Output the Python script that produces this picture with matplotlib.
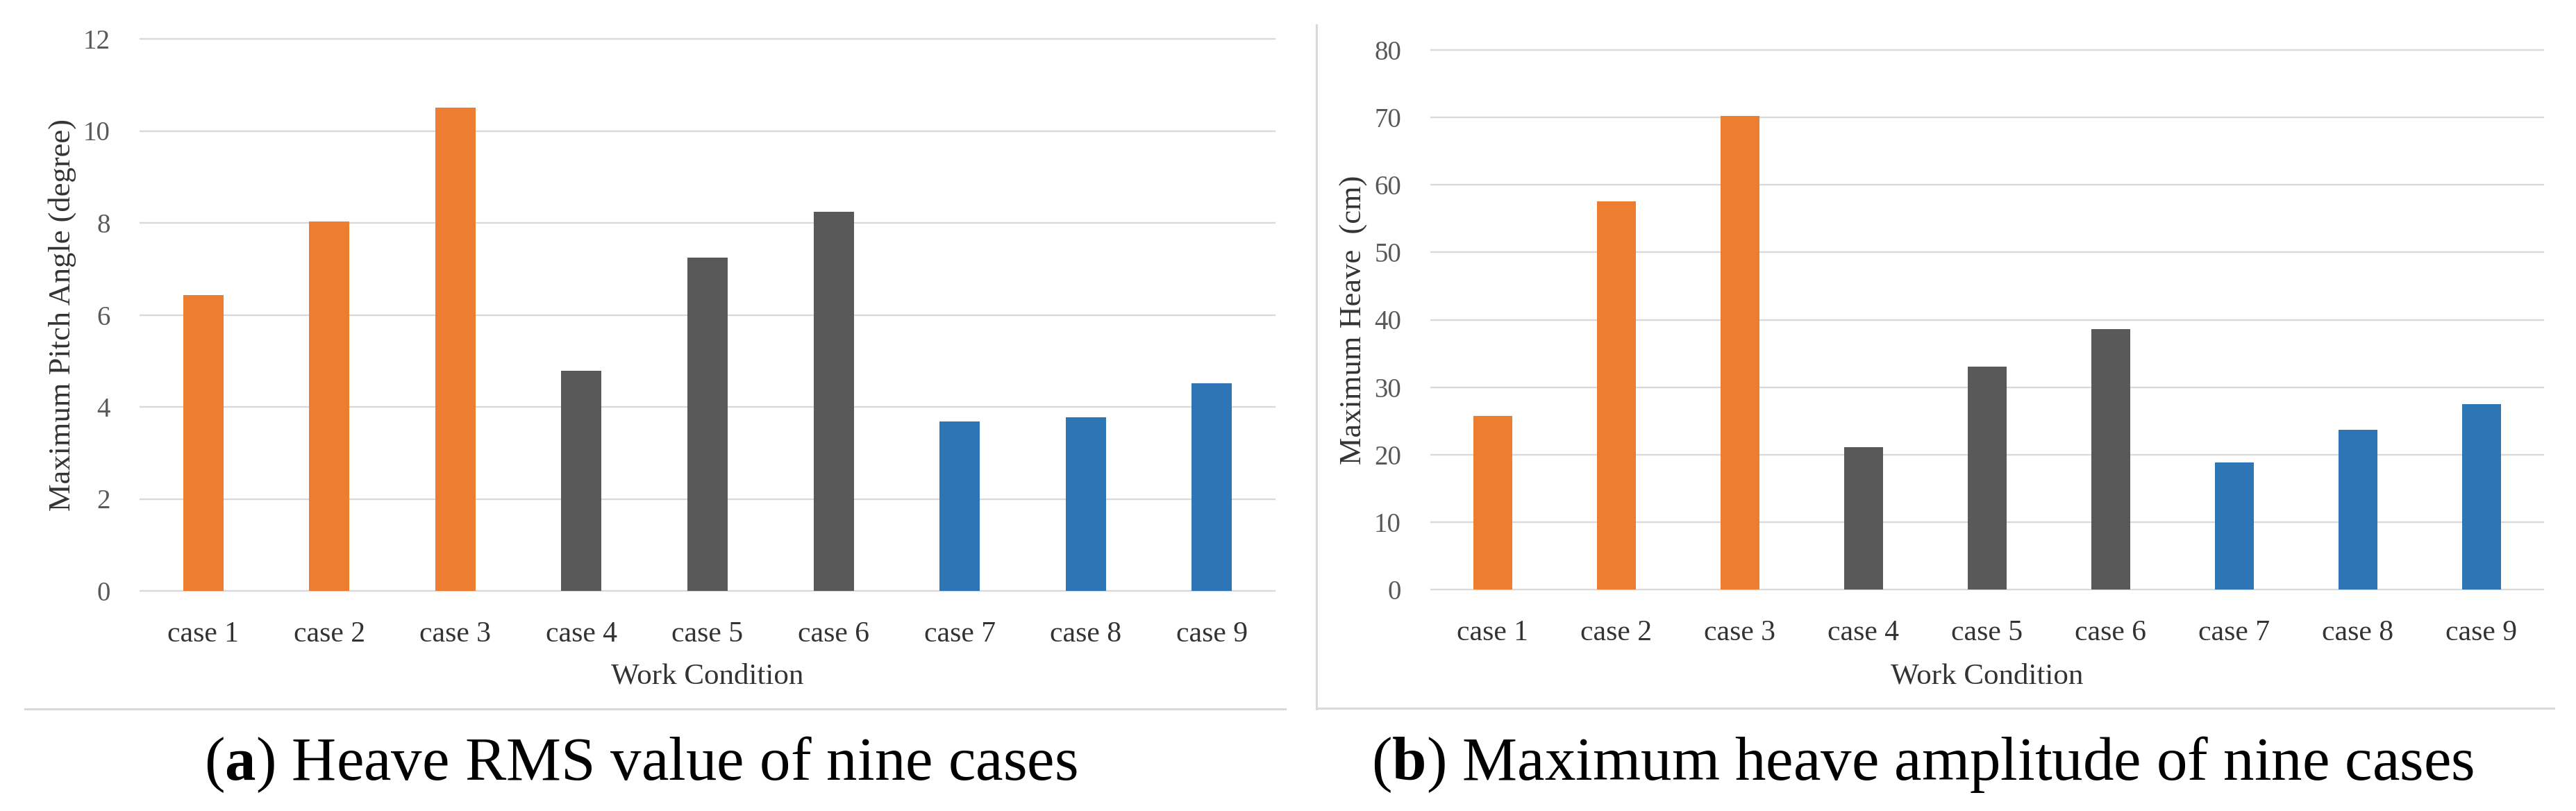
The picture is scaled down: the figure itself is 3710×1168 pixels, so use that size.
import matplotlib
matplotlib.use("Agg")
import matplotlib.pyplot as plt
from matplotlib.lines import Line2D

plt.rcParams['font.family'] = ['Liberation Serif', 'DejaVu Serif']
plt.rcParams['mathtext.fontset'] = 'custom'
plt.rcParams['mathtext.rm'] = 'Liberation Serif'
plt.rcParams['mathtext.bf'] = 'Liberation Serif:bold'

cases = ["case 1", "case 2", "case 3", "case 4", "case 5", "case 6", "case 7", "case 8", "case 9"]
pitch_values = [6.43, 8.03, 10.5, 4.78, 7.25, 8.24, 3.69, 3.78, 4.51]
heave_values = [25.7, 57.6, 70.2, 21.1, 33.1, 38.6, 18.8, 23.7, 27.5]
bar_colors = ["#ED7D31"] * 3 + ["#595959"] * 3 + ["#2E75B6"] * 3
pitch_ticks = [0, 2, 4, 6, 8, 10, 12]
heave_ticks = [0, 10, 20, 30, 40, 50, 60, 70, 80]

W, H = 3710, 1168
fig = plt.figure(figsize=(W / 100, H / 100), dpi=100)

def px_axes(x0, x1, ytop, ybot):
    return fig.add_axes([x0 / W, (H - ybot) / H, (x1 - x0) / W, (ybot - ytop) / H])

def style(ax, values, ticks, ylabel, ylab_x, xlab_y):
    x = list(range(len(cases)))
    ax.bar(x, values, width=0.32, color=bar_colors, zorder=3)
    ax.set_xlim(-0.5, len(cases) - 0.5)
    ax.set_ylim(ticks[0], ticks[-1])
    ax.set_yticks(ticks)
    ax.set_xticks(x)
    ax.set_xticklabels(cases)
    for s in ax.spines.values():
        s.set_visible(False)
    ax.grid(axis='y', color='#d9d9d9', linewidth=1.7, zorder=0)
    for gl in ax.get_ygridlines():
        gl.set_clip_on(False)
    ax.tick_params(axis='both', length=0)
    ax.tick_params(axis='y', pad=31, labelsize=28, labelcolor='#595959')
    ax.tick_params(axis='x', pad=31, labelsize=30, labelcolor='#333333')
    ax.set_ylabel(ylabel, fontsize=32, color='#333333')
    ax.yaxis.set_label_coords(ylab_x, 0.5)
    ax.set_xlabel("Work Condition", fontsize=31, color='#333333')
    ax.xaxis.set_label_coords(0.5, xlab_y)

ax1 = px_axes(202, 1836, 56, 851)
style(ax1, pitch_values, pitch_ticks, "Maximum Pitch Angle (degree)", -0.056, -0.131)

ax2 = px_axes(2061, 3663, 72, 849)
style(ax2, heave_values, heave_ticks, "Maximum Heave  (cm)", -0.057, -0.136)

# panel borders
bc = '#d9d9d9'
def fline(xs, ys):
    fig.add_artist(Line2D([v / W for v in xs], [(H - v) / H for v in ys],
                          color=bc, linewidth=2.2, transform=fig.transFigure))
fline([36, 1851], [1021, 1021])
fline([1896, 1896], [36, 1021])
fline([1896, 3678], [1020, 1020])

# captions
fig.text(923 / W, (H - 1123) / H, r"($\mathbf{a}$) Heave RMS value of nine cases",
         ha='center', va='baseline', fontsize=64, color='black')
fig.text(2769 / W, (H - 1123) / H, r"($\mathbf{b}$) Maximum heave amplitude of nine cases",
         ha='center', va='baseline', fontsize=64, color='black')

fig.savefig("out.png", dpi=100, facecolor='white')
